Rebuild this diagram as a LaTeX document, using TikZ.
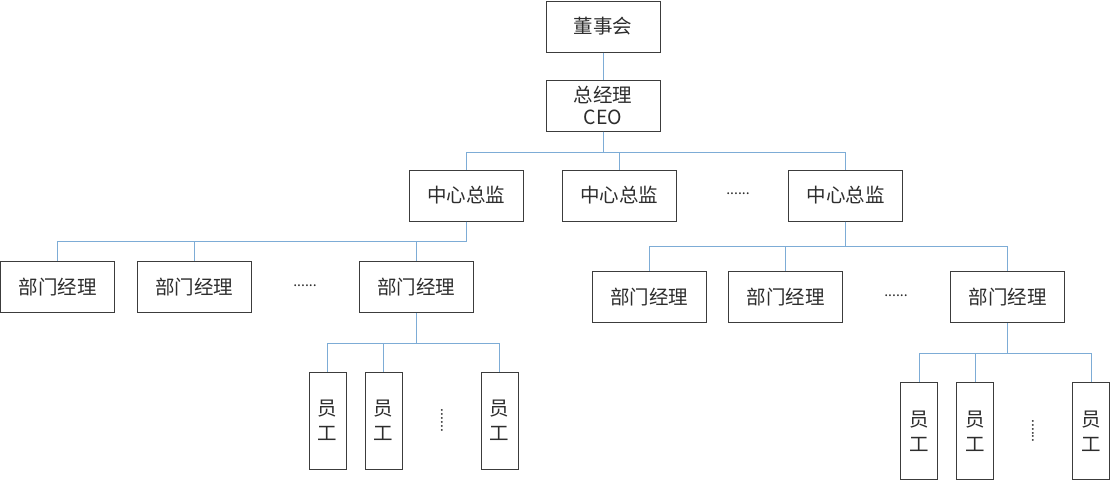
\documentclass[tikz,border=0pt]{standalone}
\usepackage{fontspec}
\newfontfamily\cjk{Noto Sans CJK SC}
\definecolor{linkblue}{RGB}{125,172,214}
\definecolor{boxgray}{RGB}{60,60,60}
\definecolor{txtgray}{RGB}{45,45,45}
\tikzset{
	box/.style={draw=boxgray,line width=1pt,fill=white,text=txtgray,inner sep=0pt,minimum width=114pt,minimum height=51pt,font=\cjk\fontsize{19.5}{25}\selectfont,align=center},
	staff/.style={box,minimum width=37pt,minimum height=97pt},
	link/.style={draw=linkblue,line width=1pt},
	more/.style={text=txtgray,inner sep=0pt,font=\cjk\fontsize{14}{16}\selectfont}
}
\begin{document}
\begin{tikzpicture}[x=1pt,y=-1pt]
	\useasboundingbox (0,0) rectangle (1113,480);

	\node [box] (board) at (603,26.5) {董事会};
	\node [box] (ceo) at (603,105.5) {总经理\\[-3pt]CEO};

	\node [box] (dir1) at (466,195.5) {中心总监};
	\node [box] (dir2) at (619,195.5) {中心总监};
	\node [more] (dotsd) at (738,194) {......};
	\node [box] (dir3) at (845.5,195.5) {中心总监};

	\node [box] (mgr1) at (57.5,287) {部门经理};
	\node [box] (mgr2) at (194,287) {部门经理};
	\node [more] (dotsa) at (305,286) {......};
	\node [box] (mgr3) at (416,287) {部门经理};

	\node [box] (mgr4) at (649,297) {部门经理};
	\node [box] (mgr5) at (785.5,297) {部门经理};
	\node [more] (dotsb) at (896,296) {......};
	\node [box] (mgr6) at (1007.5,297) {部门经理};

	\node [staff] (emp1) at (327.5,420.5) {员\\工};
	\node [staff] (emp2) at (383.5,420.5) {员\\工};
	\node [more,rotate=-90] (dotse) at (442,420.5) {......};
	\node [staff] (emp3) at (499.5,420.5) {员\\工};

	\node [staff] (emp4) at (919,431) {员\\工};
	\node [staff] (emp5) at (975,431) {员\\工};
	\node [more,rotate=-90] (dotsf) at (1033,431) {......};
	\node [staff] (emp6) at (1091,431) {员\\工};

	\draw [link] (board.south) -- (ceo.north);
	\foreach \d in {dir1,dir2,dir3}
		\draw [link] (ceo.south) -- ++(0,21) -| (\d.north);
	\foreach \m in {mgr1,mgr2,mgr3}
		\draw [link] (dir1.south) -- ++(0,20) -| (\m.north);
	\foreach \m in {mgr4,mgr5,mgr6}
		\draw [link] (dir3.south) -- ++(0,25) -| (\m.north);
	\foreach \e in {emp1,emp2,emp3}
		\draw [link] (mgr3.south) -- ++(0,30) -| (\e.north);
	\foreach \e in {emp4,emp5,emp6}
		\draw [link] (mgr6.south) -- ++(0,30) -| (\e.north);
\end{tikzpicture}
\end{document}
